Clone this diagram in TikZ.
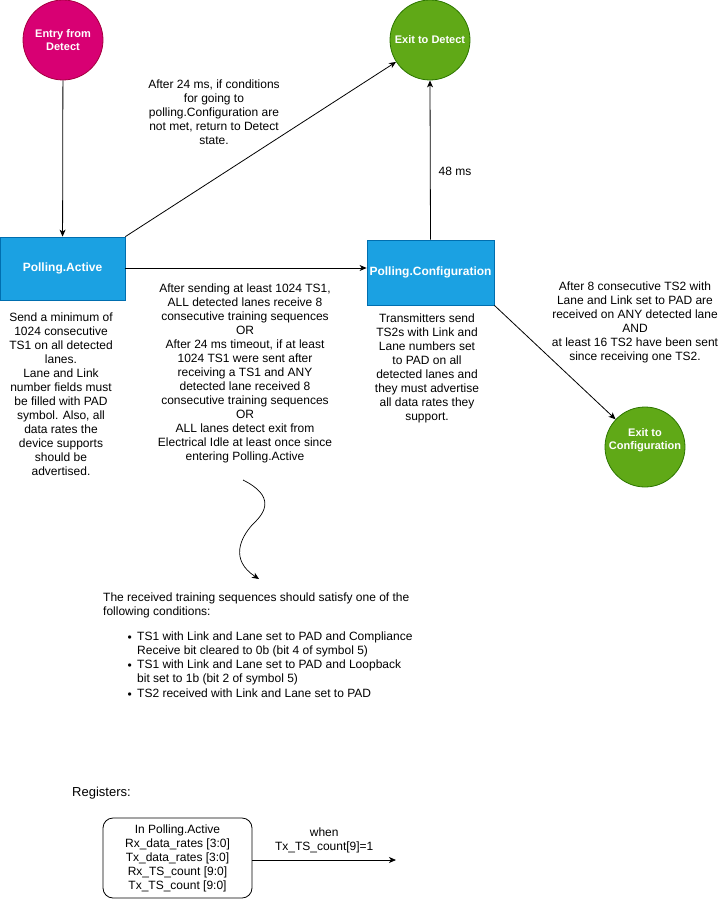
\documentclass[tikz,border=0pt]{standalone}
\usepackage{fontspec}
\setmainfont{Liberation Sans}
\usetikzlibrary{arrows.meta,positioning,calc}

\definecolor{actblue}{HTML}{1BA1E2}
\definecolor{actline}{HTML}{006EAF}
\definecolor{exgreen}{HTML}{60A917}
\definecolor{exline}{HTML}{2D7600}
\definecolor{enpink}{HTML}{D80073}
\definecolor{enline}{HTML}{A50040}

\tikzset{
  txt/.style={font=\fontsize{12}{14}\selectfont, align=center, inner sep=0pt},
  state/.style={draw=actline, fill=actblue, text=white, line width=0.8pt,
    font=\bfseries\fontsize{12}{14}\selectfont, inner sep=0pt},
  endpt/.style={circle, minimum size=80pt, inner sep=0pt, line width=0.8pt,
    text=white, align=center, font=\bfseries\fontsize{11}{13.5}\selectfont},
  entry/.style={endpt, draw=enline, fill=enpink},
  exitst/.style={endpt, draw=exline, fill=exgreen},
  arr/.style={-{Stealth[length=7pt,width=6pt,inset=2pt]}, line width=0.8pt},
}

\begin{document}
\begin{tikzpicture}[x=1pt,y=-1pt]
		\useasboundingbox (0,0) rectangle (726,901);
		
		% states
		\node[entry] (entry) at (63,40) {Entry from\\Detect};
		\node[exitst] (exdet) at (430,40) {Exit to Detect};
		\node[exitst] (excfg) at (645,447) {};
		\node[endpt, minimum size=0pt] (excfgtxt) at (645,440) {Exit to\\Configuration};
		\node[state, minimum width=125pt, minimum height=63pt] (act) at (62.5,268.5) {Polling.Active};
		\node[state, minimum width=127pt, minimum height=65pt] (cfg) at (430.5,272.5) {Polling.Configuration};
		
		% transitions
		\draw[arr] (entry) -- (act);
		\draw[arr] (act.north east) -- (exdet);
		\draw[arr] (act.east |- 0,268) -- (cfg.west |- 0,268);
		\draw[arr] (cfg.north) -- (exdet.south);
		\draw[arr] (cfg.south east) -- (excfg);
		
		% labels
		\node[txt] (lbldet) at (214,112) {After 24 ms, if conditions\\for going to\\polling.Configuration are\\not met, return to Detect\\state.};
		\node[txt] (lbl48) at (455,171) {48 ms};
		\node[txt] (lblact) at (245,373) {After sending at least 1024 TS1,\\ALL detected lanes receive 8\\consecutive training sequences\\OR\\After 24 ms timeout, if at least\\1024 TS1 were sent after\\receiving a TS1 and ANY\\detected lane received 8\\consecutive training sequences\\OR\\ALL lanes detect exit from\\Electrical Idle at least once since\\entering Polling.Active};
		\node[txt] (lblcfg) at (635,322.5) {After 8 consecutive TS2 with\\Lane and Link set to PAD are\\received on ANY detected lane\\AND\\at least 16 TS2 have been sent\\since receiving one TS2.};
		
		% state notes
		\node[txt] (noteact) at (61,394) {Send a minimum of\\1024 consecutive\\TS1 on all detected\\lanes.\\Lane and Link\\number fields must\\be filled with PAD\\symbol. Also, all\\data rates the\\device supports\\should be\\advertised.};
		\node[txt] (notecfg) at (427,368.5) {Transmitters send\\TS2s with Link and\\Lane numbers set\\to PAD on all\\detected lanes and\\they must advertise\\all data rates they\\support.};
		
		% wavy pointer to the conditions
		\coordinate (w0) at (243,480);
		\coordinate (w1) at (253,524);
		\coordinate (w2) at (259,579);
		\draw[arr, line width=0.7pt] (w0) .. controls (275,496) and (266,512) .. (w1)
			.. controls (240,538) and (230,560) .. (w2);
		
		\node[txt, align=left, anchor=west] (cond) at (103,605.5) {The received training sequences should satisfy one of the\\following conditions:};
		\foreach \i/\y/\t in {1/644/{TS1 with Link and Lane set to PAD and Compliance\\Receive bit cleared to 0b (bit 4 of symbol 5)},
			2/672/{TS1 with Link and Lane set to PAD and Loopback\\bit set to 1b (bit 2 of symbol 5)},
			3/693/{TS2 received with Link and Lane set to PAD}}{
			\node[txt, align=left, anchor=west] (item\i) at (137,\y) {\t};
			\node[txt, anchor=east] (dot\i) at ($(item\i.north west)+(-5,7)$) {\textbullet};
		}
		
		% registers
		\node[txt, font=\fontsize{13}{15}\selectfont, anchor=west] (regs) at (72,793) {Registers:};
		\node[txt, draw, rounded corners=10pt, line width=0.8pt, minimum width=149pt, minimum height=80pt] (regbox) at (177.5,858) {In Polling.Active\\Rx\_data\_rates [3:0]\\Tx\_data\_rates [3:0]\\Rx\_TS\_count [9:0]\\Tx\_TS\_count [9:0]};
		\coordinate (regend) at (396,860);
		\draw[arr] (regbox.east |- regend) -- node[txt, above=7pt] (lblreg) {when\\Tx\_TS\_count[9]=1} (regend);
	\end{tikzpicture}
\end{document}
